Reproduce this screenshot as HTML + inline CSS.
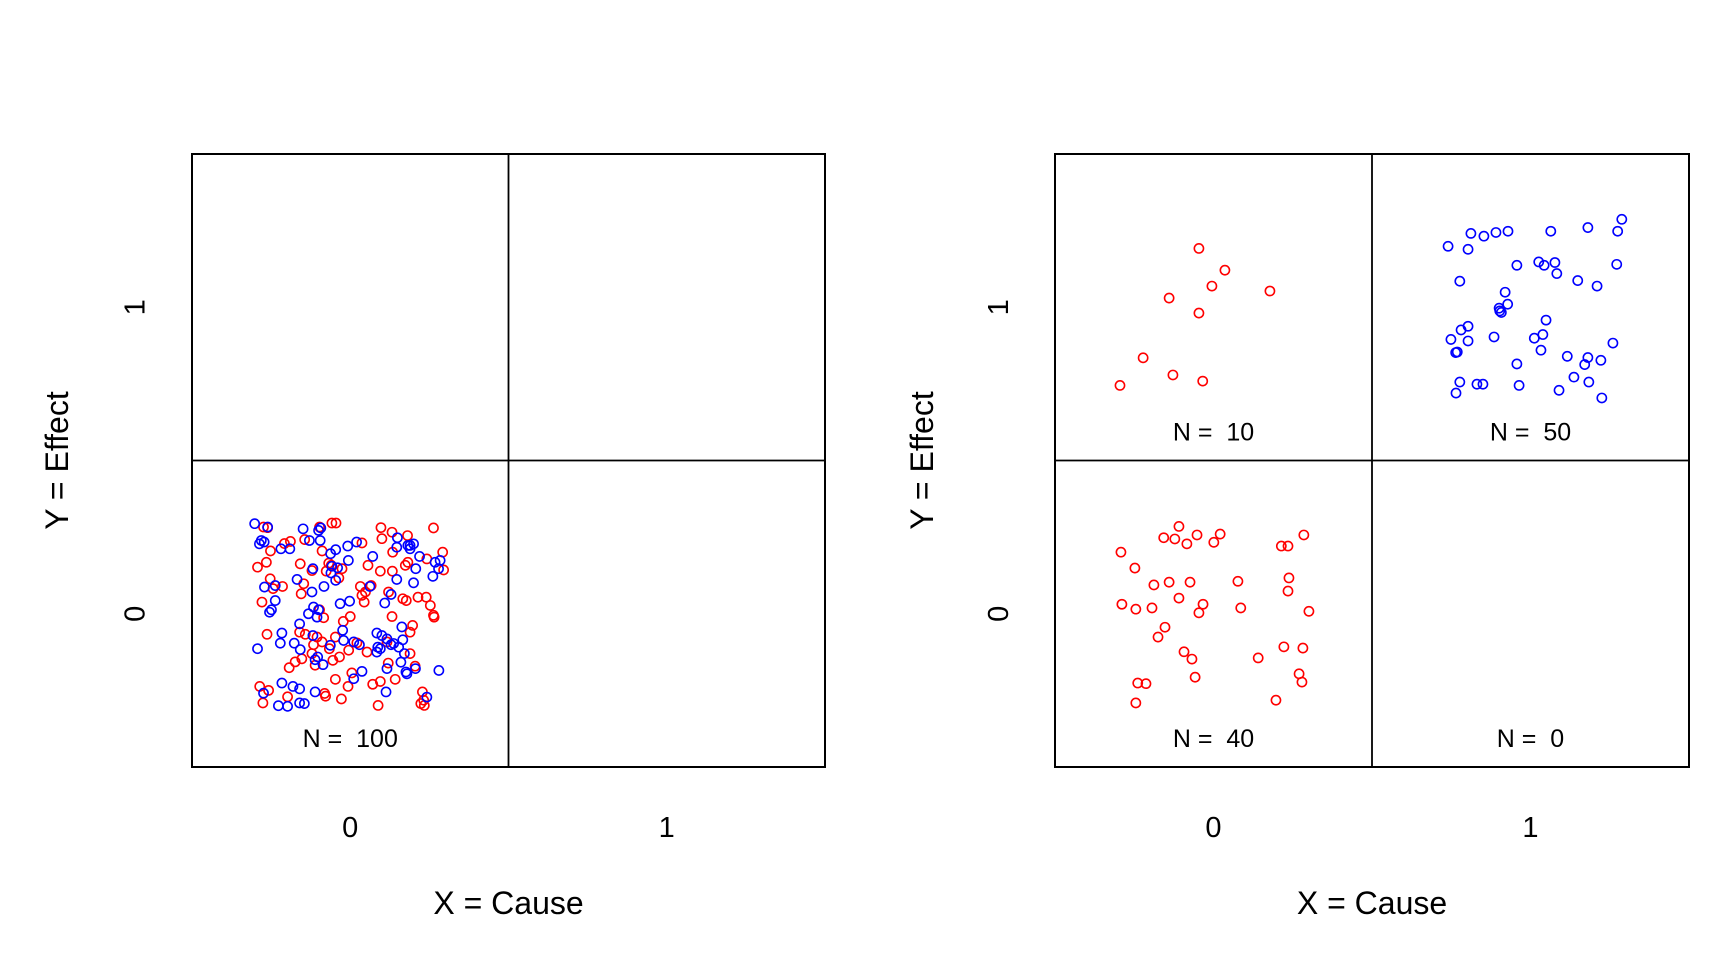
<!DOCTYPE html>
<html><head><meta charset="utf-8"><style>
html,body{margin:0;padding:0;background:#fff;}
svg{display:block;font-family:"Liberation Sans",Arial,sans-serif;}
text{white-space:pre;}
</style></head><body>
<svg id="chart" width="1728" height="960" viewBox="0 0 1728 960" xmlns="http://www.w3.org/2000/svg" xml:space="preserve"></svg>
<script>
// Left panel: cell X=0,Y=0 (red and blue jittered points)
const leftRedX=[-0.274,-0.261,-0.097,-0.058,-0.045,0.097,0.100,0.132,0.181,0.263,-0.189,-0.144,-0.089,0.037,-0.252,-0.293,-0.265,-0.158,-0.121,-0.068,-0.076,-0.036,-0.026,0.056,0.095,0.133,0.134,0.182,0.242,0.292,0.295,-0.253,-0.214,-0.244,-0.155,-0.279,-0.147,0.032,0.066,0.048,0.044,0.121,0.166,0.177,0.214,0.240,0.253,0.263,0.265,0.132,0.000,-0.022,-0.084,-0.097,0.197,0.189,-0.263,-0.160,-0.142,-0.116,-0.105,-0.047,-0.089,0.021,0.053,-0.153,-0.055,-0.111,-0.193,0.120,0.205,-0.047,-0.007,0.005,0.071,0.095,0.142,-0.286,-0.258,-0.276,-0.198,-0.081,-0.078,-0.028,0.088,0.228,0.223,0.232,0.234,0.189,-0.005,-0.066,-0.034,-0.121,-0.174,0.037,0.174,-0.208,-0.060,0.116];
const leftRedY=[0.283,0.281,0.283,0.296,0.296,0.281,0.245,0.266,0.255,0.280,0.236,0.242,0.205,0.231,0.205,0.152,0.168,0.163,0.141,0.165,0.139,0.117,0.147,0.158,0.139,0.139,0.201,0.168,0.179,0.201,0.143,0.114,0.089,0.082,0.065,0.038,0.098,0.089,0.092,0.071,0.038,0.071,0.049,0.043,0.054,0.054,0.027,-0.005,-0.011,-0.009,-0.009,-0.025,-0.013,0.013,-0.038,-0.060,-0.067,-0.060,-0.067,-0.101,-0.076,-0.076,-0.092,-0.095,-0.125,-0.147,-0.152,-0.168,-0.176,-0.161,-0.171,-0.214,-0.237,-0.193,-0.230,-0.221,-0.214,-0.237,-0.250,-0.291,-0.271,-0.260,-0.269,-0.278,-0.299,-0.255,-0.293,-0.282,-0.299,-0.130,-0.119,-0.114,-0.141,-0.130,-0.157,0.060,0.158,0.229,0.158,-0.092];
const leftBlueX=[-0.302,-0.261,-0.149,-0.093,-0.287,-0.272,-0.281,-0.219,-0.191,-0.129,-0.095,-0.062,-0.046,-0.008,0.020,-0.006,-0.040,-0.061,-0.046,-0.118,0.071,0.149,0.147,0.182,0.189,0.200,0.219,0.207,0.284,0.279,0.261,0.200,0.147,0.062,0.129,0.109,-0.083,-0.121,-0.168,-0.237,-0.271,-0.237,-0.255,-0.249,-0.032,-0.002,-0.116,-0.132,-0.100,-0.160,-0.105,-0.024,-0.021,-0.216,-0.221,-0.177,-0.158,-0.118,-0.063,0.029,0.084,0.100,0.116,0.087,0.084,0.129,0.153,0.163,0.166,0.171,-0.293,-0.103,-0.086,-0.111,0.037,0.011,0.116,0.160,0.176,0.179,0.206,0.280,-0.216,-0.181,-0.160,-0.274,-0.227,-0.198,-0.160,-0.145,-0.111,0.113,0.242,0.137,0.011,-0.058,0.189,0.268,0.095,-0.100];
const leftBlueY=[0.294,0.283,0.277,0.280,0.228,0.234,0.239,0.212,0.212,0.239,0.239,0.196,0.209,0.221,0.234,0.174,0.150,0.133,0.109,0.147,0.187,0.248,0.217,0.223,0.212,0.228,0.187,0.147,0.174,0.147,0.122,0.101,0.112,0.089,0.063,0.035,0.089,0.071,0.112,0.092,0.087,0.043,0.005,0.013,0.033,0.041,0.022,0.000,0.013,-0.033,-0.011,-0.054,-0.087,-0.063,-0.096,-0.096,-0.117,-0.071,-0.103,-0.101,-0.063,-0.071,-0.082,-0.109,-0.125,-0.101,-0.109,-0.043,-0.085,-0.130,-0.114,-0.141,-0.166,-0.150,-0.188,-0.212,-0.179,-0.158,-0.190,-0.196,-0.179,-0.185,-0.226,-0.237,-0.245,-0.259,-0.300,-0.302,-0.291,-0.293,-0.255,-0.255,-0.272,-0.097,-0.092,0.155,0.223,0.168,-0.114,0.272];
// Right panel
const rightRedX=[-0.046,0.036,-0.005,-0.140,0.178,-0.046,-0.222,-0.295,-0.128,-0.034,
-0.292,-0.248,-0.188,-0.140,-0.074,-0.109,-0.033,-0.046,-0.289,-0.245,-0.194,-0.157,-0.122,-0.109,-0.084,-0.052,0.001,0.021,0.077,0.086,-0.153,-0.175,-0.093,-0.068,-0.058,-0.239,-0.213,-0.245,0.141,0.197,0.222,0.282,0.270,0.279,0.214,0.235,0.285,0.238,0.235,0.301];
const rightRedY=[1.192,1.121,1.069,1.030,1.053,0.981,0.835,0.745,0.779,0.759,
0.201,0.149,0.094,0.103,0.103,0.051,0.031,0.003,0.031,0.015,0.019,0.248,0.244,0.285,0.228,0.257,0.233,0.260,0.106,0.019,-0.044,-0.076,-0.124,-0.148,-0.207,-0.226,-0.228,-0.291,-0.144,-0.282,-0.108,-0.112,-0.196,-0.223,0.221,0.221,0.257,0.117,0.074,0.008];
const rightBlueX=[0.740,0.803,0.812,0.853,0.891,0.929,1.064,1.181,1.288,1.275,0.957,1.026,1.043,1.077,1.083,1.149,1.210,1.272,0.777,0.920,0.928,0.901,0.908,0.903,1.049,0.803,0.781,0.749,0.803,0.769,0.764,0.885,1.012,1.039,1.033,1.116,1.181,1.171,1.222,1.260,0.957,0.777,0.765,0.831,0.850,0.964,1.090,1.137,1.184,1.225];
const rightBlueY=[1.199,1.189,1.241,1.232,1.244,1.248,1.248,1.260,1.287,1.248,1.137,1.148,1.137,1.146,1.110,1.087,1.069,1.140,1.085,1.049,1.010,0.997,0.983,0.988,0.958,0.938,0.926,0.895,0.890,0.854,0.852,0.903,0.899,0.911,0.860,0.840,0.836,0.813,0.827,0.883,0.815,0.756,0.720,0.749,0.749,0.745,0.729,0.772,0.756,0.704];
const countsLeft=[["N =  100",0,0]];
const countsRight=[["N =  10",0,1],["N =  50",1,1],["N =  40",0,0],["N =  0",1,0]];
const tickLabels=["0","1"];

const NS="http://www.w3.org/2000/svg";
const svg=document.getElementById('chart');
function mk(tag,attrs,parent){const e=document.createElementNS(NS,tag);for(const k in attrs)e.setAttribute(k,attrs[k]);(parent||svg).appendChild(e);return e;}

function panel(name,x0,x1,y0,y1,ticksX,titleX,series,counts){
  const g=mk('g',{});
  
  
  const sx=v=>x0+(v+0.5)/2*(x1-x0);
  const sy=v=>y1-(v+0.5)/2*(y1-y0);
  const vl=mk('line',{x1:sx(0.5),y1:y0,x2:sx(0.5),y2:y1,stroke:'#000','stroke-width':1.8},g);
  
  
  const hl=mk('line',{x1:x0,y1:sy(0.5),x2:x1,y2:sy(0.5),stroke:'#000','stroke-width':1.8},g);
  
  
  const box=mk('rect',{x:x0,y:y0,width:x1-x0,height:y1-y0,fill:'none',stroke:'#000','stroke-width':2},g);
  
  
  series.forEach(s=>{
    for(let i=0;i<s.xs.length;i++){
      const c=mk('circle',{cx:sx(s.xs[i]),cy:sy(s.ys[i]),r:4.6,fill:'none',stroke:s.color,'stroke-width':1.6},g);
      
      
    }
  });
  counts.forEach(c=>{
    const t=mk('text',{x:sx(c[1]),y:sy(c[2])+133,'text-anchor':'middle','font-size':25,fill:'#000'},g);
    t.textContent=c[0];
    
    
  });
  tickLabels.forEach((lab,i)=>{
    const t=mk('text',{x:sx(i),y:837,'text-anchor':'middle','font-size':29},g);
    t.textContent=lab;
    
    
    const yy=sy(i), xx=ticksX;
    const u=mk('text',{x:xx,y:yy,'text-anchor':'middle','font-size':29,transform:`rotate(-90 ${xx} ${yy})`,dy:10},g);
    u.textContent=lab;
    
    
  });
  const xt=mk('text',{x:(x0+x1)/2,y:914,'text-anchor':'middle','font-size':32},g);
  xt.textContent='X = Cause';
  
  
  const ym=(y0+y1)/2;
  const yt=mk('text',{x:titleX,y:ym,'text-anchor':'middle','font-size':32,transform:`rotate(-90 ${titleX} ${ym})`,dy:11},g);
  yt.textContent='Y = Effect';
  
  
}
panel('left-panel',192,825,154,767,134.5,57,[
  {xs:leftRedX,ys:leftRedY,color:'#ff0000',name:'point-red'},
  {xs:leftBlueX,ys:leftBlueY,color:'#0000ff',name:'point-blue'}],countsLeft);
panel('right-panel',1055,1689,154,767,998,922,[
  {xs:rightRedX,ys:rightRedY,color:'#ff0000',name:'point-red'},
  {xs:rightBlueX,ys:rightBlueY,color:'#0000ff',name:'point-blue'}],countsRight);
</script>
</body></html>
